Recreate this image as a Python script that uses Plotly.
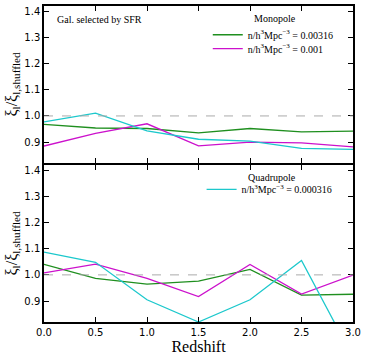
import plotly.graph_objects as go
from plotly.subplots import make_subplots

redshift = [0.0, 0.5, 1.0, 1.5, 2.0, 2.5, 3.0]

# Monopole (top panel)
mono_00316 = [0.968, 0.954, 0.952, 0.935, 0.952, 0.939, 0.942]
mono_0001 = [0.885, 0.933, 0.970, 0.886, 0.900, 0.897, 0.882]
mono_000316 = [0.977, 1.011, 0.943, 0.911, 0.904, 0.876, 0.872]

# Quadrupole (bottom panel)
quad_00316 = [1.040, 0.987, 0.965, 0.976, 1.021, 0.923, 0.926]
quad_0001 = [1.008, 1.041, 0.987, 0.917, 1.040, 0.927, 0.999]
quad_000316 = [1.087, 1.048, 0.905, 0.820, 0.905, 1.055, 0.685]

labels = ["n/h<sup>3</sup>Mpc<sup>\u22123</sup> = 0.00316",
          "n/h<sup>3</sup>Mpc<sup>\u22123</sup> = 0.001",
          "n/h<sup>3</sup>Mpc<sup>\u22123</sup> = 0.000316"]
colors = ["#1f8f1f", "#cc11cc", "#1cc8cc"]

SERIF = "Liberation Serif, DejaVu Serif, serif"
SANS = "DejaVu Sans, sans-serif"

fig = make_subplots(rows=2, cols=1, shared_xaxes=True, vertical_spacing=0.006)

top = [mono_00316, mono_0001, mono_000316]
bot = [quad_00316, quad_0001, quad_000316]
# one legend per entry so the rows can sit as close as in the original
top_legends = ["legend", "legend2", "legend"]
for i in range(3):
    fig.add_trace(go.Scatter(
        x=redshift, y=top[i], mode="lines", name=labels[i],
        line=dict(color=colors[i], width=1.3),
        showlegend=(i < 2), legend=top_legends[i],
    ), row=1, col=1)
    fig.add_trace(go.Scatter(
        x=redshift, y=bot[i], mode="lines", name=labels[i],
        line=dict(color=colors[i], width=1.3),
        showlegend=(i == 2), legend="legend3",
    ), row=2, col=1)

for r in (1, 2):
    fig.add_hline(y=1.0, line=dict(color="#aaaaaa", width=1, dash="dash"), row=r, col=1)

axis_style = dict(
    showline=True, linecolor="black", linewidth=1.5, mirror="ticks",
    ticks="inside", ticklen=5, tickwidth=1.2, tickcolor="black",
    showgrid=False, zeroline=False,
    tickfont=dict(family=SANS, size=10, color="black"),
)
fig.update_xaxes(range=[0, 3], dtick=0.5, tickformat=".1f", **axis_style)
fig.update_yaxes(range=[0.82, 1.42], dtick=0.1, tick0=0.9, tickformat=".1f", **axis_style)
fig.update_xaxes(title=dict(text="Redshift", font=dict(family=SERIF, size=16, color="black"),
                            standoff=1), row=2, col=1)
ytitle = "\u03be<sub>l</sub>/\u03be<sub>l,shuffled</sub>"
for r in (1, 2):
    fig.update_yaxes(title=dict(text=ytitle, font=dict(family=SERIF, size=16, color="black"),
                                standoff=3), row=r, col=1)

txt = dict(family=SERIF, size=10, color="black")
fig.add_annotation(text="Gal. selected by SFR", xref="paper", yref="paper",
                   x=0.036, y=0.956, xanchor="left", yanchor="middle", showarrow=False, font=txt)
fig.add_annotation(text="Monopole", xref="paper", yref="paper",
                   x=0.673, y=0.959, xanchor="left", yanchor="middle", showarrow=False, font=txt)
fig.add_annotation(text="Quadrupole", xref="paper", yref="paper",
                   x=0.654, y=0.456, xanchor="left", yanchor="middle", showarrow=False, font=txt)

leg = dict(xanchor="left", yanchor="middle", bgcolor="rgba(0,0,0,0)",
           font=txt, itemwidth=30)
fig.update_layout(
    width=366, height=358,
    margin=dict(l=44, r=13, t=4, b=36),
    plot_bgcolor="white", paper_bgcolor="white",
    legend=dict(x=0.53, y=0.909, **leg),
    legend2=dict(x=0.53, y=0.865, **leg),
    legend3=dict(x=0.51, y=0.42, **leg),
)

fig.write_html("out.html", config={"displayModeBar": False},
               post_script="document.body.style.margin='0';")
